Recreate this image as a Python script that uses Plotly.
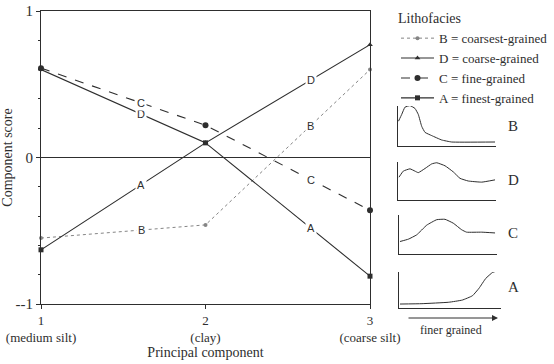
import numpy as np
import plotly.graph_objects as go

# ---- main chart data ----
components = [1, 2, 3]
comp_labels = ["1<br>(medium silt)", "2<br>(clay)", "3<br>(coarse silt)"]
score_B = [-0.55, -0.46, 0.60]
score_D = [0.60, 0.10, 0.77]
score_C = [0.61, 0.22, -0.36]
score_A = [-0.63, 0.10, -0.81]
series_names = ["B = coarsest-grained", "D = coarse-grained", "C = fine-grained", "A = finest-grained"]
series_tags = ["B", "D", "C", "A"]
label_x = [1.61, 2.64]
ytick_vals = [-1, 0, 1]
ytick_text = ["--1", "0", "1"]

# ---- inset grain-size curves (x: 0..100 finer ->, y: 0..100 relative) ----
inB_x = [0.5, 3.8, 7.1, 12.2, 17.3, 20.7, 24.2, 27.6, 34.4, 44.6, 54.8, 99]
inB_y = [62, 79, 97, 101, 94, 79, 49, 34, 26, 15, 10, 10]
inD_x = [1, 5.4, 12.2, 17.3, 20.7, 27.6, 34.4, 39.5, 48, 56.4, 63.3, 71.7, 85.4, 99]
inD_y = [60, 76, 82, 76, 72, 83, 95, 98, 90, 74, 57, 50, 47, 53]
inC_x = [1, 9.5, 18, 28.3, 38.5, 46.9, 55.4, 64, 69, 84.4, 98]
inC_y = [32, 38, 49, 74, 88, 89, 79, 62, 56, 56, 54]
inA_x = [1, 22.5, 48.8, 62, 72, 78.5, 85, 91.8, 96.7]
inA_y = [11, 12, 16, 22, 34, 55, 82, 99, 103]

W, H = 554, 364
DARK = "#2e2e2e"
GRAY = "#858585"
SERIF = "Liberation Serif"
SANS = "Liberation Sans"

def px(x):
    return x / W

def py(y):
    return (H - y) / H

fig = go.Figure()

styles = [
    dict(color=GRAY, dash="dot", width=1, symbol="circle", size=4),
    dict(color=DARK, dash="solid", width=1.1, symbol="triangle-up", size=5),
    dict(color=DARK, dash="dash", width=1.1, symbol="circle", size=6),
    dict(color=DARK, dash="solid", width=1.1, symbol="square", size=5),
]
all_scores = [score_B, score_D, score_C, score_A]
for name, vals, st in zip(series_names, all_scores, styles):
    fig.add_trace(go.Scatter(
        x=components, y=vals, mode="lines+markers", name=name,
        line=dict(color=st["color"], dash=st["dash"], width=st["width"]),
        marker=dict(symbol=st["symbol"], size=st["size"], color=st["color"]),
        cliponaxis=False,
    ))

# in-line letter labels
annotations = []
for tag, vals in zip(series_tags, all_scores):
    for lx in label_x:
        ly = float(np.interp(lx, components, vals))
        annotations.append(dict(
            x=lx, y=ly, xref="x", yref="y", text=tag, showarrow=False,
            font=dict(family=SANS, size=11, color=DARK),
            bgcolor="white", borderpad=1,
        ))

# inset axes
insets = [
    (inB_x, inB_y, (398, 496), (106, 146), "B", 126),
    (inD_x, inD_y, (398, 496), (162, 200), "D", 180),
    (inC_x, inC_y, (399, 497), (215, 254), "C", 233),
    (inA_x, inA_y, (399, 501), (272, 308), "A", 287),
]
for i, (xs, ys, (x0, x1), (y0, y1), tag, ty) in enumerate(insets, start=2):
    fig.add_trace(go.Scatter(
        x=xs, y=ys, mode="lines", line=dict(color=DARK, width=1, shape="spline", smoothing=0.35),
        xaxis=f"x{i}", yaxis=f"y{i}", showlegend=False, hoverinfo="skip",
        cliponaxis=False,
    ))
    fig.layout[f"xaxis{i}"] = dict(
        domain=[px(x0), px(x1)], range=[0, 100], anchor=f"y{i}",
        showline=True, linecolor=DARK, linewidth=1, showgrid=False,
        zeroline=False, showticklabels=False, ticks="", automargin=False,
    )
    fig.layout[f"yaxis{i}"] = dict(
        domain=[py(y1), py(y0)], range=[0, 100], anchor=f"x{i}",
        showline=True, linecolor=DARK, linewidth=1, showgrid=False,
        zeroline=False, showticklabels=False, ticks="", automargin=False,
    )
    annotations.append(dict(
        x=px(513), y=py(ty), xref="paper", yref="paper", text=tag,
        showarrow=False, font=dict(family=SERIF, size=15, color=DARK),
        xanchor="center", yanchor="middle",
    ))

# "finer grained" arrow
annotations.append(dict(
    x=px(498), y=py(318), xref="paper", yref="paper", text="",
    showarrow=True, ax=-91, ay=0, arrowhead=2, arrowsize=1.2, arrowwidth=1,
    arrowcolor=DARK,
))
annotations.append(dict(
    x=px(451), y=py(330), xref="paper", yref="paper", text="finer grained",
    showarrow=False, font=dict(family=SERIF, size=12, color=DARK),
    xanchor="center", yanchor="middle",
))

fig.update_layout(
    width=W, height=H,
    margin=dict(l=0, r=0, t=0, b=0, autoexpand=False),
    paper_bgcolor="white", plot_bgcolor="white",
    font=dict(family=SERIF, size=14, color=DARK),
    xaxis=dict(
        domain=[px(41), px(370)], range=[1, 3], automargin=False,
        tickvals=components, ticktext=comp_labels,
        showline=True, mirror=True, linecolor=DARK, linewidth=1,
        ticks="outside", ticklen=4, tickcolor=DARK, showgrid=False, zeroline=False,
        title=dict(text="Principal component", font=dict(size=14), standoff=3),
        tickfont=dict(size=13),
    ),
    yaxis=dict(
        domain=[py(304), py(11)], range=[-1, 1], automargin=False,
        tickvals=ytick_vals, ticktext=ytick_text,
        showline=True, mirror=True, linecolor=DARK, linewidth=1,
        ticks="outside", ticklen=4, tickcolor=DARK, showgrid=False,
        zeroline=True, zerolinecolor=DARK, zerolinewidth=1,
        minor=dict(dtick=0.2, ticks="outside", ticklen=2, tickcolor=DARK),
        title=dict(text="Component score", font=dict(size=14), standoff=0),
        tickfont=dict(size=15),
    ),
    legend=dict(
        x=px(396), y=py(5), xanchor="left", yanchor="top",
        title=dict(text="Lithofacies", font=dict(family=SERIF, size=14)),
        font=dict(family=SERIF, size=13, color=DARK),
        bgcolor="rgba(0,0,0,0)", tracegroupgap=0, itemwidth=33,
    ),
    annotations=annotations,
    showlegend=True,
)

fig.write_html("out.html")
